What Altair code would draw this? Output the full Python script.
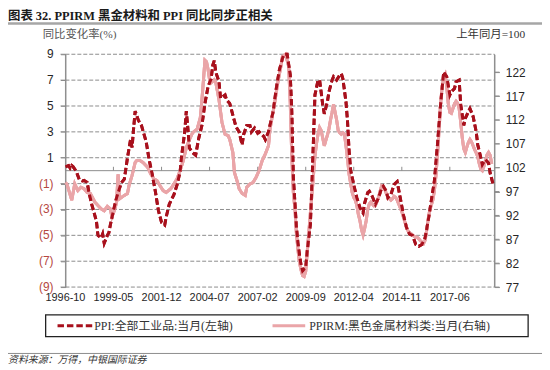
import altair as alt
import pandas as pd

# ---------------- text ----------------
TITLE = "图表 32. PPIRM 黑金材料和 PPI 同比同步正相关"
LEFT_TITLE = "同比变化率(%)"
RIGHT_TITLE = "上年同月=100"
PPI_NAME = "PPI:全部工业品:当月(左轴)"
PPIRM_NAME = "PPIRM:黑色金属材料类:当月(右轴)"
SOURCE = "资料来源：万得，中银国际证券"

# ---------------- axes ----------------
x_ticks = ["1996-10", "1999-05", "2001-12", "2004-07", "2007-02",
           "2009-09", "2012-04", "2014-11", "2017-06"]
x_range = ["1996-10-01", "2019-10-25"]
left_ticks = [-9, -7, -5, -3, -1, 1, 3, 5, 7, 9]
right_ticks = [77, 82, 87, 92, 97, 102, 107, 112, 117, 122]
left_domain = [-9, 9]
right_domain = [77, 125.75]

# ---------------- PPI (left axis, %) ----------------
ppi_months = [
    "1996-10", "1996-12",
    "1997-01", "1997-02", "1997-03", "1997-05", "1997-07", "1997-09", "1997-10", "1997-12",
    "1998-01", "1998-03", "1998-06", "1998-07", "1998-09", "1998-10", "1998-11",
    "1999-01", "1999-02", "1999-03", "1999-05", "1999-07", "1999-10", "1999-12",
    "2000-02", "2000-04", "2000-05", "2000-06", "2000-07", "2000-09", "2000-11",
    "2001-02", "2001-04", "2001-06", "2001-08", "2001-10", "2001-12",
    "2002-02", "2002-03", "2002-05", "2002-08", "2002-10", "2002-12",
    "2003-01", "2003-03", "2003-04", "2003-05", "2003-06", "2003-08", "2003-10", "2003-12",
    "2004-02", "2004-04", "2004-06", "2004-08", "2004-09", "2004-10", "2004-11",
    "2005-01", "2005-02", "2005-05", "2005-06", "2005-08", "2005-10", "2005-12",
    "2006-02", "2006-04", "2006-05", "2006-07", "2006-09", "2006-10", "2006-12",
    "2007-02", "2007-03", "2007-05", "2007-06", "2007-07", "2007-09", "2007-12",
    "2008-02", "2008-04", "2008-06", "2008-07", "2008-08", "2008-09", "2008-11", "2008-12",
    "2009-01", "2009-02", "2009-03", "2009-04", "2009-05", "2009-06", "2009-07", "2009-08",
    "2009-09", "2009-10", "2009-12",
    "2010-01", "2010-02", "2010-03", "2010-05", "2010-06", "2010-08", "2010-09", "2010-11", "2010-12",
    "2011-02", "2011-03", "2011-05", "2011-07", "2011-08", "2011-09", "2011-11", "2011-12",
    "2012-01", "2012-02", "2012-04", "2012-06", "2012-08", "2012-10", "2012-11",
    "2013-01", "2013-02", "2013-04", "2013-06", "2013-08", "2013-10", "2013-11",
    "2014-01", "2014-02", "2014-04", "2014-06", "2014-08", "2014-10", "2014-12",
    "2015-02", "2015-04", "2015-06", "2015-08", "2015-10", "2015-12",
    "2016-02", "2016-04", "2016-06", "2016-08", "2016-10", "2016-12",
    "2017-02", "2017-04", "2017-06", "2017-07", "2017-09", "2017-10", "2017-12",
    "2018-01", "2018-03", "2018-04", "2018-06", "2018-07", "2018-09", "2018-11", "2018-12",
    "2019-02", "2019-03", "2019-05", "2019-07", "2019-08", "2019-10",
]
ppi_values = [
    0.3, 0.4,
    0.2, 0.4, 0.3, -0.05, -0.7, -0.8, -0.75, -0.9,
    -1.6, -2.6, -3.9, -5.0, -5.2, -4.9, -5.6,
    -5.0, -4.8, -4.2, -3.1, -2.1, -0.95, -0.65,
    1.0, 2.4, 1.8, 3.3, 4.6, 3.9, 3.5,
    2.25, 0.85, -0.3, -1.6, -3.1, -4.0,
    -4.2, -3.6, -2.6, -1.85, -1.1, -0.05,
    1.2, 3.0, 4.6, 3.3, 1.75, 1.4, 1.2, 2.5,
    3.5, 5.2, 6.5, 7.1, 8.15, 8.5, 7.6,
    6.9, 5.6, 5.85, 5.46, 5.2, 4.3, 3.4,
    3.0, 2.0, 2.8, 3.5, 3.5, 3.0, 3.3,
    2.9, 3.0, 2.77, 2.64, 2.4, 3.0, 4.56,
    6.36, 7.77, 8.67, 9.6, 10.0, 9.2, 7.4, 4.6,
    -0.5, -2.5, -4.3, -5.6, -6.5, -7.3, -7.75, -7.6,
    -7.5, -6.2, -4.15,
    -1.08, 2.5, 5.85, 7.0, 7.0, 5.1, 4.4, 5.33, 6.1,
    7.0, 7.26, 7.0, 7.4, 7.5, 7.1, 5.3, 3.8,
    1.5, 0.0, -1.08, -2.1, -2.87, -3.26, -2.5,
    -1.7, -1.6, -2.0, -2.6, -2.1, -1.33, -1.2,
    -1.6, -2.1, -1.85, -1.08, -0.85, -2.1, -3.4,
    -4.4, -4.9, -5.0, -5.7, -5.85, -5.7,
    -5.2, -3.9, -2.35, -0.82, 2.0, 5.1,
    7.64, 7.26, 5.85, 6.1, 6.36, 6.87, 7.0,
    5.1, 3.5, 4.05, 4.56, 4.8, 4.2, 3.0, 2.0,
    0.97, 0.46, 0.85, 0.6, -0.18, -1.08,
]

# ---------------- PPIRM ferrous (right axis, prev year = 100) ----------------
ppirm_months = [
    "1996-10", "1996-11",
    "1997-02", "1997-03", "1997-04", "1997-06", "1997-08", "1997-10", "1997-12",
    "1998-02", "1998-05", "1998-07", "1998-09", "1998-11",
    "1999-01", "1999-03", "1999-04", "1999-06", "1999-07", "1999-08", "1999-09", "1999-12",
    "2000-02", "2000-03", "2000-05", "2000-07", "2000-08", "2000-10", "2000-12",
    "2001-03", "2001-05", "2001-07", "2001-09", "2001-11",
    "2002-01", "2002-03", "2002-06", "2002-08", "2002-10", "2002-12",
    "2003-02", "2003-04", "2003-06", "2003-08", "2003-11",
    "2004-01", "2004-02", "2004-03", "2004-04", "2004-05", "2004-06", "2004-07", "2004-08",
    "2004-10", "2004-11",
    "2005-01", "2005-03", "2005-05", "2005-07", "2005-08", "2005-10", "2005-11",
    "2006-01", "2006-02", "2006-04", "2006-06", "2006-07", "2006-09", "2006-11",
    "2007-01", "2007-03", "2007-05", "2007-07", "2007-09", "2007-10",
    "2008-01", "2008-03", "2008-05", "2008-06", "2008-08", "2008-10", "2008-11", "2008-12",
    "2009-01", "2009-02", "2009-03", "2009-04", "2009-05", "2009-06",
    "2009-07", "2009-08", "2009-09", "2009-10", "2009-11", "2009-12",
    "2010-01", "2010-02", "2010-03", "2010-04", "2010-05", "2010-06",
    "2010-07", "2010-08", "2010-09", "2010-10", "2010-11", "2010-12",
    "2011-01", "2011-02", "2011-03", "2011-04", "2011-05", "2011-06",
    "2011-07", "2011-08", "2011-09", "2011-10", "2011-11", "2011-12",
    "2012-01", "2012-02", "2012-03", "2012-04", "2012-05", "2012-06",
    "2012-07", "2012-08", "2012-09", "2012-10", "2012-11", "2012-12",
    "2013-01", "2013-02", "2013-03", "2013-04", "2013-05", "2013-06",
    "2013-07", "2013-08", "2013-09", "2013-10", "2013-11", "2013-12",
    "2014-01", "2014-02", "2014-03", "2014-04", "2014-05", "2014-06",
    "2014-07", "2014-08", "2014-09", "2014-10", "2014-11", "2014-12",
    "2015-01", "2015-02", "2015-03", "2015-04", "2015-05", "2015-06",
    "2015-07", "2015-08", "2015-09", "2015-10", "2015-11", "2015-12",
    "2016-01", "2016-02", "2016-03", "2016-04", "2016-05", "2016-06",
    "2016-07", "2016-08", "2016-09", "2016-10", "2016-11", "2016-12",
    "2017-01", "2017-02", "2017-03", "2017-04", "2017-05", "2017-06",
    "2017-07", "2017-08", "2017-09", "2017-10", "2017-11", "2017-12",
    "2018-01", "2018-02", "2018-03", "2018-04", "2018-05", "2018-06",
    "2018-07", "2018-08", "2018-09", "2018-10", "2018-11", "2018-12",
    "2019-01", "2019-02", "2019-03", "2019-04", "2019-05", "2019-06",
    "2019-07", "2019-08", "2019-09",
]
ppirm_values = [
    98.9, 98.5,
    95.2, 96.8, 98.6, 97.2, 97.9, 97.6, 96.8,
    96.6, 94.8, 94.1, 93.4, 93.0,
    93.9, 93.4, 91.7, 93.4, 94.8, 100.6, 95.5, 96.2,
    96.6, 98.2, 100.4, 103.1, 103.5, 103.5, 103.1,
    102.1, 100.7, 99.7, 99.3, 98.2,
    97.2, 96.8, 97.6, 98.6, 99.7, 101.4,
    103.5, 106.2, 107.9, 109.3, 110.1,
    112.5, 116.1, 120.1, 124.5, 124.2, 122.6, 120.4, 119.8,
    120.4, 119.8,
    116.3, 111.5, 109.0, 108.7, 107.9, 105.2, 101.0,
    98.9, 97.6, 96.6, 96.2, 97.9, 98.6, 98.9,
    100.0, 101.4, 103.5, 104.9, 106.6, 110.1,
    115.6, 119.8, 123.2, 125.3, 126.4, 123.2, 115.6, 104.5,
    96.8, 93.3, 88.4, 84.9, 82.2, 80.6,
    79.4, 79.2, 80.3, 84.4, 88.4, 92.5,
    96.3, 100.6, 104.4, 107.1, 109.0, 110.4,
    109.8, 108.2, 106.6, 107.7, 108.8, 110.1,
    112.0, 113.6, 115.3, 113.6, 112.0, 109.8,
    109.3, 109.0, 109.3, 109.0, 106.6, 103.9,
    100.6, 98.7, 96.8, 95.8, 95.2, 94.1,
    92.2, 90.9, 89.0, 87.9, 89.3, 90.9,
    93.3, 94.4, 94.8, 94.4, 94.0, 94.1,
    94.9, 95.8, 97.1, 98.2, 97.9, 97.5,
    96.6, 95.8, 95.5, 95.2, 95.5, 96.0,
    95.8, 95.2, 94.4, 93.6, 92.8, 91.7,
    90.6, 89.5, 88.8, 88.4, 88.2, 87.9,
    87.6, 87.5, 87.4, 87.1, 86.7, 86.4,
    86.1, 86.8, 88.7, 91.2, 93.0, 94.1,
    95.2, 97.1, 100.4, 104.7, 109.8, 115.3,
    119.0, 120.9, 121.5, 119.0, 115.5, 113.6,
    113.4, 114.4, 115.4, 115.9, 115.5, 114.4,
    111.5, 108.2, 106.0, 105.2, 106.3, 107.3,
    107.9, 107.4, 106.6, 105.8, 105.1, 104.3,
    102.8, 101.7, 101.4, 102.3, 103.5, 104.7,
    105.2, 104.6, 102.8,
]

# ---------------- styling ----------------
W, H = 433, 235
SANS = "Liberation Sans, Arial, sans-serif"
SERIF = "Liberation Serif, Noto Sans CJK SC, serif"
GRID = "#8c8c8c"
RED = "#a8101c"
PINK = "#eaa5a8"
NEG = "#b5473f"
POS = "#262626"


def ms(s):
    """UTC timestamp in ms for 'YYYY-MM' or 'YYYY-MM-DD'."""
    if len(s) == 7:
        s = s + "-01"
    return int(pd.Timestamp(s, tz="UTC").value // 10**6)


t0, t1 = ms(x_range[0]), ms(x_range[1])
ppi_df = pd.DataFrame({"t": [ms(m) for m in ppi_months], "value": ppi_values})
ppirm_df = pd.DataFrame({"t": [ms(m) for m in ppirm_months], "value": ppirm_values})
grid_df = pd.DataFrame({"lvl": left_ticks})
grid_seg = pd.DataFrame(
    [{"lvl": l, "t": t} for l in left_ticks for t in (t0, t1)]
)
base_seg = pd.DataFrame([{"lvl": 0, "t": t} for t in (t0, t1)])
tick_df = pd.DataFrame({"t": [ms(m) for m in x_ticks], "lvl": [0] * len(x_ticks)})
right_df = pd.DataFrame({"r": right_ticks})

x_scale = alt.Scale(type="utc", domain=[t0, t1])
left_scale = alt.Scale(domain=left_domain, nice=False, zero=False, clamp=True)
right_scale = alt.Scale(domain=right_domain, nice=False, zero=False, clamp=True)

right_axis = alt.Axis(
    orient="right", values=right_ticks, title=None, grid=False,
    domainColor=GRID, domainWidth=1, tickColor=GRID, tickSize=5,
    labelPadding=6, labelFont=SANS, labelFontSize=12, labelColor=POS,
)
left_axis = alt.Axis(
    orient="left", values=left_ticks, title=None, grid=False, labels=False,
    domainColor=GRID, domainWidth=1, tickColor=GRID, tickSize=5,
)


def ppirm_layer(axis):
    return alt.Chart(ppirm_df).mark_line(color=PINK, strokeWidth=3).encode(
        x=alt.X("t:T", scale=x_scale, axis=None),
        y=alt.Y("value:Q", scale=right_scale, axis=axis),
    )


def ppi_layer(axis):
    return alt.Chart(ppi_df).mark_line(
        color=RED, strokeWidth=3, strokeDash=[6.5, 3]
    ).encode(
        x=alt.X("t:T", scale=x_scale, axis=None),
        y=alt.Y("value:Q", scale=left_scale, axis=axis),
    )


# dashed grid at the left-axis ticks (2-point lines across the x range)
grid_lines = alt.Chart(grid_seg).mark_line(
    color=GRID, strokeWidth=1, strokeDash=[4, 2]
).encode(
    x=alt.X("t:T", scale=x_scale, axis=None),
    y=alt.Y("lvl:Q", scale=left_scale, axis=None),
    detail="lvl:N",
)
base_line = alt.Chart(base_seg).mark_line(color=GRID, strokeWidth=1).encode(
    x=alt.X("t:T", scale=x_scale, axis=None),
    y=alt.Y("lvl:Q", scale=left_scale, axis=None),
)
base_ticks = alt.Chart(tick_df).transform_calculate(
    top="datum.lvl + 0.3"
).mark_rule(color=GRID, strokeWidth=1).encode(
    x=alt.X("t:T", scale=x_scale, axis=None),
    y=alt.Y("lvl:Q", scale=left_scale, axis=None),
    y2="top:Q",
)
left_tick_marks = alt.Chart(grid_df).mark_rule(color=GRID, strokeWidth=1).encode(
    x=alt.value(-5), x2=alt.value(0),
    y=alt.Y("lvl:Q", scale=left_scale, axis=None),
)
right_tick_marks = alt.Chart(right_df).mark_rule(color=GRID, strokeWidth=1).encode(
    x=alt.value(W), x2=alt.value(W + 5),
    y=alt.Y("r:Q", scale=right_scale, axis=None),
)


def vline(x, color, width):
    return alt.Chart(pd.DataFrame({"k": [0]})).mark_rule(color=color, strokeWidth=width).encode(
        x=alt.value(x), y=alt.value(0), y2=alt.value(H)
    )


left_labels = alt.Chart(grid_df).transform_calculate(
    lab="datum.lvl < 0 ? '(' + abs(datum.lvl) + ')' : '' + datum.lvl"
).mark_text(
    align="right", baseline="middle", font=SANS, fontSize=12
).encode(
    x=alt.value(-12),
    y=alt.Y("lvl:Q", scale=left_scale, axis=None),
    text="lab:N",
    color=alt.condition("datum.lvl < 0", alt.value(NEG), alt.value(POS)),
)

x_labels = alt.Chart(tick_df).transform_calculate(
    lab="utcFormat(datum.t, '%Y-%m')"
).mark_text(
    align="center", baseline="top", font=SANS, fontSize=11, color=POS
).encode(
    x=alt.X("t:T", scale=x_scale, axis=None),
    y=alt.value(H + 5),
    text="lab:N",
)


def text_layer(txt, x, y, size, font, color, align="left", weight="normal", style="normal"):
    return alt.Chart(pd.DataFrame({"s": [txt]})).mark_text(
        align=align, baseline="middle", fontSize=size, font=font, color=color,
        fontWeight=weight, fontStyle=style,
    ).encode(x=alt.value(x), y=alt.value(y), text="s:N")


def hline(x1, x2, y, color, width, dash=None):
    kw = dict(color=color, strokeWidth=width)
    if dash:
        kw["strokeDash"] = dash
    return alt.Chart(pd.DataFrame({"k": [0]})).mark_rule(**kw).encode(
        x=alt.value(x1), x2=alt.value(x2), y=alt.value(y)
    )


legend_box = alt.Chart(pd.DataFrame({"k": [0]})).mark_rect(
    fill="white", stroke="#222222", strokeWidth=1.3
).encode(x=alt.value(-20), x2=alt.value(467), y=alt.value(263), y2=alt.value(285))

decos = [
    text_layer(TITLE, -58, -38.5, 12.5, SERIF, "#1a1a1a", weight="bold"),
    hline(-58, 482, -31, "#a6a6a6", 2.5),
    text_layer(LEFT_TITLE, -23, -19, 11.5, SERIF, "#555555"),
    text_layer(RIGHT_TITLE, 464, -19, 11.5, SERIF, "#333333", align="right"),
    legend_box,
    hline(-8, 27, 274, RED, 3, [6.5, 3]),
    text_layer(PPI_NAME, 29, 274, 12, SERIF, "#333333"),
    hline(209, 242, 274, PINK, 3),
    text_layer(PPIRM_NAME, 246, 274, 12, SERIF, "#333333"),
    hline(-58, 482, 302, "#8c8c8c", 1),
    text_layer(SOURCE, -58, 309, 10, SERIF, "#333333", style="italic"),
]

layers = [
    ppirm_layer(right_axis), ppi_layer(left_axis), ppirm_layer(None),
    grid_lines, base_line, base_ticks,
    vline(0, GRID, 1), vline(W, GRID, 1),
    left_tick_marks, right_tick_marks,
    ppirm_layer(None), ppi_layer(None),
    left_labels, x_labels,
] + decos

chart = alt.layer(*layers).resolve_scale(
    y="independent"
).properties(
    width=W, height=H,
    autosize=alt.AutoSizeParams(type="none"),
    padding={"left": 58, "top": 45, "right": 48, "bottom": 81},
).configure_view(stroke=None)

chart.save("out.html", embed_options={"renderer": "svg", "actions": False})
